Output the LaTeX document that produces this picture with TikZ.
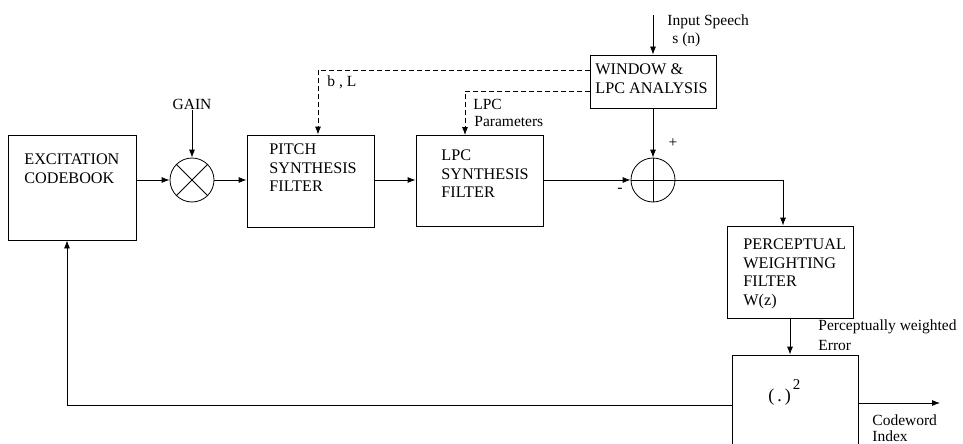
\documentclass[tikz,border=0pt]{standalone}
\usepackage{fontspec}
\setmainfont{Liberation Serif}
\usetikzlibrary{arrows.meta,calc}
\begin{document}
\begin{tikzpicture}[x=1pt,y=-1pt, line width=0.8pt,
  blk/.style={draw, rectangle, inner sep=0pt},
  txt/.style={inner sep=0pt, anchor=north west, align=left, font=\fontsize{16.2}{18.5}\selectfont},
  lbl/.style={inner sep=0pt, anchor=west, font=\fontsize{15.5}{17}\selectfont},
  arr/.style={-{Latex[length=8pt,width=6pt]}},
  dsh/.style={dash pattern=on 5pt off 3pt},
  junction/.style={draw, circle, minimum size=44pt, inner sep=0pt}]
\useasboundingbox (0,0) rectangle (963,444);
\clip (0,0) rectangle (963,444);

% blocks
\node[blk, minimum width=128pt, minimum height=105pt] (cb) at (72,187.5) {};
\node[txt] (cbt) at (24,153.5) {EXCITATION\\CODEBOOK};
\node[junction] (mul) at (192,180) {};
\draw (mul.north west) -- (mul.south east);
\draw (mul.north east) -- (mul.south west);
\node[blk, minimum width=127pt, minimum height=92pt] (pitch) at (310.5,181) {};
\node[txt] (pitcht) at (269,143.5) {PITCH\\SYNTHESIS\\FILTER};
\node[blk, minimum width=127pt, minimum height=91pt] (lpc) at (479.5,181) {};
\node[txt] (lpct) at (441,149.5) {LPC\\SYNTHESIS\\FILTER};
\node[junction] (sum) at (653,180) {};
\draw (sum.north) -- (sum.south);
\draw (sum.west) -- (sum.east);
\node[blk, minimum width=126pt, minimum height=53pt] (win) at (653,81.5) {};
\node[txt] (wint) at (595,63.5) {WINDOW \&\\LPC ANALYSIS};
\node[blk, minimum width=126pt, minimum height=92pt] (perc) at (790,272) {};
\node[txt] (perct) at (743,238.5) {PERCEPTUAL\\WEIGHTING\\FILTER\\W(z)};
\node[blk, minimum width=126pt, minimum height=150pt] (sq) at (795,430) {};
\node[inner sep=0pt, anchor=west, font=\fontsize{18}{20}\selectfont] (sqt) at (768,392) {(\kern3pt.\kern3pt)\raisebox{12pt}{\fontsize{15}{15}\selectfont\kern2pt 2}};

% labels
\node[lbl, anchor=center] (gain) at (192,104) {GAIN};
\node[lbl] (inp) at (667,22) {Input Speech};
\node[lbl] (sn) at (672,40) {s (n)};
\node[lbl] (bl) at (327,82) {b , L};
\node[lbl] (lpcp1) at (473,104) {LPC};
\node[lbl] (lpcp2) at (474,122) {Parameters};
\node[lbl, anchor=center] (plus) at (673,143) {+};
\node[lbl, anchor=center] (minus) at (620,190) {-};
\node[lbl] (pw1) at (818,327) {Perceptually weighted};
\node[lbl] (pw2) at (818,345) {Error};
\node[lbl] (cw1) at (872,420) {Codeword};
\node[lbl] (cw2) at (872,436) {Index};

% coordinates
\coordinate (in) at (653,15);
\coordinate (turn1) at (783,180);
\coordinate (outend) at (940,403);
\coordinate (fbx) at (67,405);
\coordinate (d1) at (318,70);
\coordinate (d2) at (465,91);

% connectors
\draw[arr] (gain.south) -- (mul.north);
\draw[arr] (mul.west -| cb.east) -- (mul.west);
\draw[arr] (mul.east) -- (mul.east -| pitch.west);
\draw[arr] (pitch.east |- mul) -- (lpc.west |- mul);
\draw[arr] (lpc.east |- sum) -- (sum.west);
\draw[arr] (in) -- (win.north);
\draw[arr] (win.south) -- (sum.north);
\draw[arr] (sum.east) -- (turn1) -- (turn1 |- perc.north);
\draw[arr] (perc.south) -- (perc.south |- sq.north);
\draw[arr] (sq.east |- outend) -- (outend);
\draw[arr] (sq.west |- fbx) -- (fbx) -- (fbx |- cb.south);
\draw[arr, dsh] (win.west |- d1) -- (d1) -- (d1 |- pitch.north);
\draw[arr, dsh] (win.west |- d2) -- (d2) -- (d2 |- lpc.north);
\end{tikzpicture}
\end{document}
